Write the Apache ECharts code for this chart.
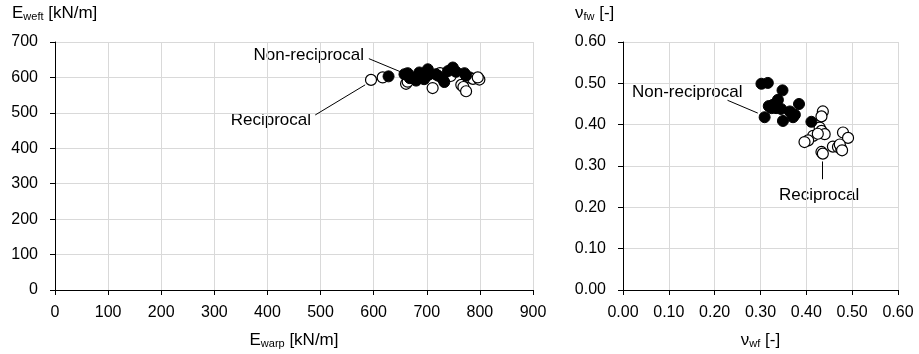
<!DOCTYPE html>
<html><head><meta charset="utf-8">
<script src="https://cdn.jsdelivr.net/npm/echarts@6/dist/echarts.min.js"></script>
<style>html,body{margin:0;padding:0;background:#fff}#c{width:919px;height:354px}</style>
</head><body><div id="c"></div>
<script>
// Left chart: E_warp vs E_weft [kN/m]
const leftXTicks = [0,100,200,300,400,500,600,700,800,900];
const leftYTicks = [0,100,200,300,400,500,600,700];
const leftNonReciprocal = [
  [628,603],[658,609],[664,612],[674,600],[680,591],[686,614],[689,600],[702,623],
  [705,609],[717,609],[721,605],[730,596],[733,587],[740,618],[749,628],[755,616],
  [771,612],[774,605],[695,595],[668,598]
];
const leftReciprocal = [
  [595,593],[617,600],[661,582],[664,588],[711,570],[765,579],[769,573],[774,561],
  [780,600],[787,596],[799,594],[796,600],[700,605],[725,612],[745,604],[680,600]
];
// Right chart: nu_wf vs nu_fw [-]
const rightXTicks = [0,0.1,0.2,0.3,0.4,0.5,0.6];
const rightYTicks = [0,0.1,0.2,0.3,0.4,0.5,0.6];
const rightNonReciprocal = [
  [0.302,0.499],[0.316,0.501],[0.348,0.483],[0.338,0.460],[0.327,0.448],[0.324,0.440],
  [0.334,0.440],[0.309,0.418],[0.349,0.409],[0.364,0.432],[0.375,0.424],[0.384,0.450],
  [0.371,0.418],[0.411,0.407],[0.318,0.445],[0.345,0.438]
];
const rightReciprocal = [
  [0.436,0.432],[0.433,0.420],[0.429,0.393],[0.433,0.385],[0.440,0.377],[0.415,0.373],
  [0.404,0.362],[0.396,0.358],[0.433,0.334],[0.436,0.330],[0.458,0.347],[0.469,0.346],
  [0.476,0.342],[0.480,0.381],[0.491,0.368],[0.473,0.352],[0.478,0.338],[0.425,0.378]
];
// Leader lines (data coordinates)
const leftLeaders = [[[591,653],[652,615]],[[490,494],[584,579]]];
const rightLeaders = [[[0.228,0.459],[0.294,0.428]],[[0.434,0.311],[0.434,0.268]]];

const FONT = 'Liberation Sans, Arial, sans-serif';
const chart = echarts.init(document.getElementById('c'));

const richSub = {
  m:{fontSize:17, fontFamily:FONT, color:'#000'},
  s:{fontSize:11, fontFamily:FONT, color:'#000', verticalAlign:'bottom', padding:[6,0,0,0]}
};
const fmt2 = v => v.toFixed(2);

function xAxis(idx, min, max, interval, fmt, name) {
  return {
    type:'value', gridIndex:idx, min:min, max:max, interval:interval,
    axisLine:{show:true, onZero:false, lineStyle:{color:'#000', width:1}},
    axisTick:{show:true, length:5, lineStyle:{color:'#000'}},
    axisLabel:{color:'#000', fontSize:16, fontFamily:FONT, margin:15, formatter:fmt},
    splitLine:{show:true, lineStyle:{color:'#d9d9d9', width:1}},
    name:name, nameLocation:'middle', nameGap:42,
    nameTextStyle:{color:'#000', fontSize:17, fontFamily:FONT, rich:richSub}
  };
}
function yAxis(idx, min, max, interval, fmt) {
  return {
    type:'value', gridIndex:idx, min:min, max:max, interval:interval,
    axisLine:{show:true, onZero:false, lineStyle:{color:'#000', width:1}},
    axisTick:{show:true, length:5, lineStyle:{color:'#000'}},
    axisLabel:{color:'#000', fontSize:16, fontFamily:FONT, margin:17, formatter:fmt},
    splitLine:{show:true, lineStyle:{color:'#d9d9d9', width:1}}
  };
}

function leaderSeries(xi, yi, leaders) {
  return {
    type:'line', xAxisIndex:xi, yAxisIndex:yi, data:[], silent:true,
    markLine:{
      silent:true, symbol:['none','none'], animation:false,
      label:{show:false},
      lineStyle:{color:'#000', width:1, type:'solid'},
      data: leaders.map(l => [{coord:l[0]},{coord:l[1]}])
    }
  };
}
const openStyle = {color:'#fff', borderColor:'#000', borderWidth:1.2, opacity:1};
const fillStyle = {color:'#000', borderColor:'#000', borderWidth:1, opacity:1};

chart.setOption({
  animation:false,
  backgroundColor:'#fff',
  grid:[
    {left:55, right:386, top:42, bottom:57, containLabel:false},
    {left:623, right:21, top:42, bottom:57, containLabel:false}
  ],
  xAxis:[
    xAxis(0, 0, 900, 100, v => v, '{m|E}{s|warp}{m| [kN/m]}'),
    xAxis(1, 0, 0.6, 0.1, fmt2, '{m|ν}{s|wf}{m| [-]}')
  ],
  yAxis:[
    yAxis(0, 0, 700, 100, v => v),
    yAxis(1, 0, 0.6, 0.1, fmt2)
  ],
  series:[
    {type:'scatter', xAxisIndex:0, yAxisIndex:0, data:leftReciprocal, symbol:'circle', symbolSize:11, itemStyle:openStyle},
    {type:'scatter', xAxisIndex:0, yAxisIndex:0, data:leftNonReciprocal, symbol:'circle', symbolSize:11, itemStyle:fillStyle},
    {type:'scatter', xAxisIndex:1, yAxisIndex:1, data:rightReciprocal, symbol:'circle', symbolSize:11, itemStyle:openStyle},
    {type:'scatter', xAxisIndex:1, yAxisIndex:1, data:rightNonReciprocal, symbol:'circle', symbolSize:11, itemStyle:fillStyle},
    leaderSeries(0, 0, leftLeaders),
    leaderSeries(1, 1, rightLeaders)
  ],
  graphic:[
    {type:'text', left:12, top:5, style:{text:'{m|E}{s|weft}{m| [kN/m]}', rich:richSub, fill:'#000'}},
    {type:'text', left:575, top:5, style:{text:'{m|ν}{s|fw}{m| [-]}', rich:richSub, fill:'#000'}},
    {type:'text', x:364, y:55, style:{text:'Non-reciprocal', font:'17px '+FONT, fill:'#000', align:'right', verticalAlign:'middle'}},
    {type:'text', x:311, y:120, style:{text:'Reciprocal', font:'17px '+FONT, fill:'#000', align:'right', verticalAlign:'middle'}},
    {type:'text', x:632, y:92, style:{text:'Non-reciprocal', font:'17px '+FONT, fill:'#000', align:'left', verticalAlign:'middle'}},
    {type:'text', x:779, y:195, style:{text:'Reciprocal', font:'17px '+FONT, fill:'#000', align:'left', verticalAlign:'middle'}}
  ]
});
</script></body></html>
